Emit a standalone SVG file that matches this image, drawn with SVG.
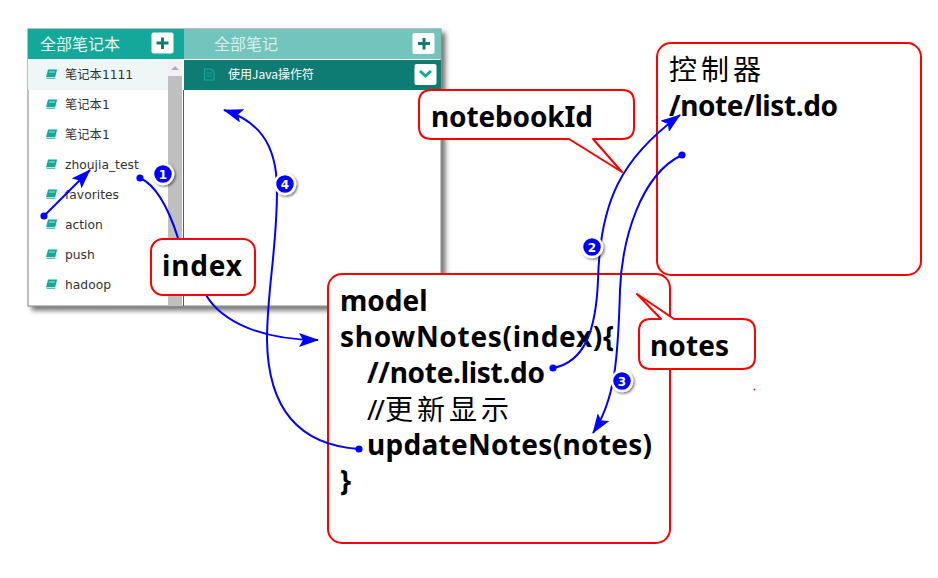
<svg xmlns="http://www.w3.org/2000/svg" width="938" height="578" viewBox="0 0 938 578">
<defs>
<filter id="winShadow" x="-5%" y="-5%" width="112%" height="115%"><feDropShadow dx="4" dy="4" stdDeviation="2.500" flood-color="#000" flood-opacity="0.55"/></filter>
<filter id="badgeShadow" x="-40%" y="-40%" width="200%" height="200%"><feDropShadow dx="1.500" dy="1.500" stdDeviation="1.200" flood-color="#000" flood-opacity="0.5"/></filter>
<marker id="arrow" viewBox="0 0 20 14" refX="19" refY="7" markerWidth="20" markerHeight="14" markerUnits="userSpaceOnUse" orient="auto"><path d="M0 0L20 7L0 14L4 7Z" fill="#0000ff"/></marker>
<marker id="dot" viewBox="0 0 8 8" refX="4" refY="4" markerWidth="8" markerHeight="8" markerUnits="userSpaceOnUse"><circle cx="4" cy="4" r="3.600" fill="#0000ff"/></marker>
<g id="book"><path d="M3 1.500H12.500L10.500 9.500H1Z" fill="#13a89a"/><path d="M1 9.500H10.500L12.500 1.500V3L10.500 11H2.500Q0.500 11 1 9.500Z" fill="#13a89a" stroke="#fff" stroke-width="0.600"/><path d="M4 4H10" stroke="#c9eeea" stroke-width="0.800"/></g>
</defs>
<style>
.call{fill:#fff;stroke:#ff0000;stroke-width:2;stroke-linejoin:round}
.big{font:bold 28px "Noto Sans","Liberation Sans","Noto Sans CJK SC",sans-serif;fill:#000}
.cjk{font:28px "Noto Sans CJK SC","Liberation Sans",sans-serif;fill:#000;letter-spacing:4px}
.item{font:12.300px "DejaVu Sans","Noto Sans CJK SC",sans-serif;fill:#333}
.head{font:16px "Noto Sans CJK SC",sans-serif;fill:#e6f5f3}
.conn{fill:none;stroke:#0000ff;stroke-width:2}
.bt{font:bold 12px "DejaVu Sans",sans-serif;fill:#fff;text-anchor:middle}
.bg{fill:#0000ff;stroke:#fff;stroke-width:2.500;filter:url(#badgeShadow)}
</style>
<rect width="938" height="578" fill="#fff"/>
<g id="window">
<rect x="28" y="29" width="413" height="277" fill="#fff" stroke="#808080" stroke-width="1" filter="url(#winShadow)"/>
<rect x="28" y="29" width="156" height="30" fill="#13a89a"/>
<rect x="184" y="29" width="257" height="30" fill="#72c4bc"/>
<rect x="184" y="60" width="257" height="30" fill="#0f7c74"/>
<rect x="28" y="59" width="140" height="31" fill="#eef7f6"/>
<rect x="168" y="59" width="14" height="247" fill="#f1f1f1"/>
<rect x="168" y="76" width="14" height="230" fill="#bfbfbf"/>
<path d="M171 70L175 66L179 70Z" fill="#b0b0b0"/>
<path d="M183.500 90V306" stroke="#0f7c74" stroke-width="1"/>
<text class="head" x="40" y="50">全部笔记本</text>
<text class="head" x="214" y="50" fill-opacity="0.9">全部笔记</text>
<rect x="151.500" y="32.500" width="22" height="21" rx="2" fill="#fff"/>
<path d="M162.500 37.500V49M156.500 43H168.500" stroke="#0f7c74" stroke-width="3"/>
<rect x="412.500" y="33" width="22" height="21" rx="2" fill="#fff"/>
<path d="M424 38V49.500M418 43.500H430" stroke="#0f7c74" stroke-width="3"/>
<rect x="414.500" y="64" width="22" height="21" rx="2" fill="#fff"/>
<path d="M420 71L425.500 76L431 71" fill="none" stroke="#13a89a" stroke-width="3"/>
<path d="M204.500 69H211L214 72V80H204.500Z M206.500 73H212 M206.500 76H212" fill="none" stroke="#13a89a" stroke-width="1.200"/>
<text x="228" y="79" style="font:12px 'Noto Sans CJK SC',sans-serif;fill:#fff">使用Java操作符</text>
<use href="#book" x="45" y="68"/><text class="item" x="65" y="79">笔记本1111</text>
<use href="#book" x="45" y="98"/><text class="item" x="65" y="109">笔记本1</text>
<use href="#book" x="45" y="128"/><text class="item" x="65" y="139">笔记本1</text>
<use href="#book" x="45" y="158"/><text class="item" x="65" y="169">zhoujia_test</text>
<use href="#book" x="45" y="188"/><text class="item" x="65" y="199">favorites</text>
<use href="#book" x="45" y="218"/><text class="item" x="65" y="229">action</text>
<use href="#book" x="45" y="248"/><text class="item" x="65" y="259">push</text>
<use href="#book" x="45" y="278"/><text class="item" x="65" y="289">hadoop</text>
</g>
<g id="controller">
<rect x="657" y="43" width="264" height="232" rx="14" class="call"/>
<text class="cjk" x="669" y="80">控制器</text>
<text class="big" x="669" y="116" textLength="169">/note/list.do</text>
</g>
<g id="model">
<rect x="328" y="274" width="342" height="269" rx="14" class="call"/>
<text class="big" x="340" y="311">model</text>
<text class="big" x="340" y="347" textLength="274">showNotes(index){</text>
<text class="big" x="367" y="383" textLength="178">//note.list.do</text>
<text class="big" x="367" y="420" style="font-weight:normal" textLength="18">//</text>
<text class="cjk" x="385" y="420">更新显示</text>
<text class="big" x="367" y="455" textLength="285">updateNotes(notes)</text>
<text class="big" x="340" y="491">}</text>
</g>
<g id="connectors">
<path class="conn" marker-start="url(#dot)" marker-end="url(#arrow)" d="M44 216L90 170"/>
<path class="conn" marker-start="url(#dot)" d="M140 178C158 186 170 213 178 238"/>
<path class="conn" marker-end="url(#arrow)" d="M206 295C222 322 262 340 318 340"/>
<path class="conn" marker-start="url(#dot)" marker-end="url(#arrow)" d="M553 368C585 362 596 330 598 280C600 200 622 158 680 115"/>
<path class="conn" marker-start="url(#dot)" marker-end="url(#arrow)" d="M682 155C640 175 622 240 620 290C618 360 615 400 593 433"/>
<path class="conn" marker-start="url(#dot)" marker-end="url(#arrow)" d="M359 449C300 445 268 410 267 340C267 290 277 250 277 190C277 140 255 120 224 110"/>
</g>
<g id="callout-notebookId">
<path class="call" d="M432 90H622Q634 90 634 102V127Q634 139 622 139H593L622 172L569 139H432Q419 139 419 127V102Q419 90 432 90Z"/>
<text class="big" x="431" y="127" textLength="162">notebookId</text>
</g>
<g id="callout-index">
<rect x="151" y="239" width="104" height="56" rx="12" class="call"/>
<text class="big" x="162" y="276" textLength="80">index</text>
</g>
<g id="callout-notes">
<path class="call" d="M651 319H661L637 294L674 319H742Q755 319 755 331V357Q755 369 742 369H651Q639 369 639 357V331Q639 319 651 319Z"/>
<text class="big" x="650" y="356" textLength="79">notes</text>
</g>
<g id="badge-1"><circle class="bg" cx="163" cy="174" r="10"/><text class="bt" x="163" y="179">1</text></g>
<g id="badge-2"><circle class="bg" cx="592" cy="247" r="10"/><text class="bt" x="592" y="252">2</text></g>
<g id="badge-3"><circle class="bg" cx="622" cy="381" r="10"/><text class="bt" x="622" y="386">3</text></g>
<g id="badge-4"><circle class="bg" cx="285" cy="184" r="10"/><text class="bt" x="285" y="189">4</text></g>
<circle cx="754.500" cy="389.500" r="1" fill="#d02020"/>
</svg>
